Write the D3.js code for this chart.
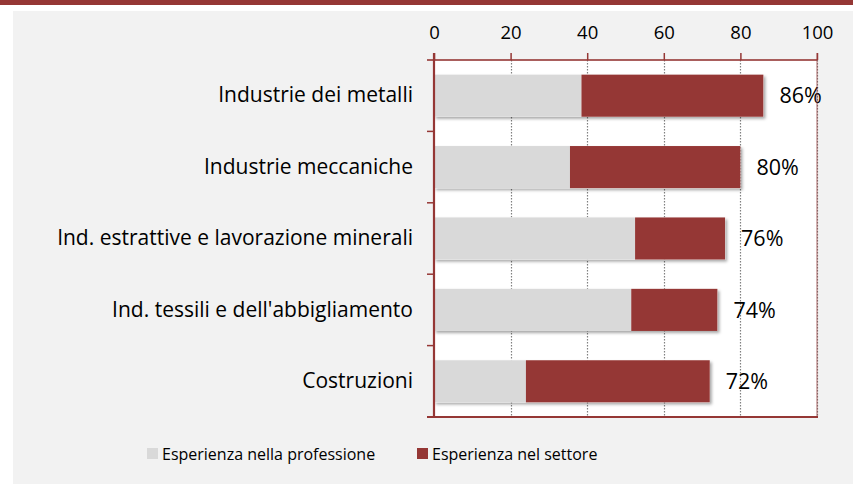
<!DOCTYPE html>
<html>
<head>
<meta charset="utf-8">
<script src="https://cdn.jsdelivr.net/npm/d3@7"></script>
<style>
  html, body { margin: 0; padding: 0; background: #fff; }
  svg { display: block; }
  text { font-family: "Open Sans", "Noto Sans", sans-serif; fill: #000; }
</style>
</head>
<body>
<svg id="chart" width="853" height="484"></svg>
<script>
const categories = [
  "Industrie dei metalli",
  "Industrie meccaniche",
  "Ind. estrattive e lavorazione minerali",
  "Ind. tessili e dell'abbigliamento",
  "Costruzioni"
];
const professione = [38.5, 35.5, 52.5, 51.5, 24];
const settore = [47.5, 44.5, 23.5, 22.5, 48];
const totali = [86, 80, 76, 74, 72];
const xTicks = [0, 20, 40, 60, 80, 100];
const seriesNames = ["Esperienza nella professione", "Esperienza nel settore"];

const RED = "#953735", GRAY = "#d9d9d9", PANEL = "#f2f2f2";
const FONT = "'Open Sans', 'Noto Sans', sans-serif";
const W = 853, H = 484;
const svg = d3.select("#chart");

const defs = svg.append("defs");
const f = defs.append("filter").attr("id", "shadow")
  .attr("x", "-5%").attr("y", "-20%").attr("width", "115%").attr("height", "150%");
f.append("feDropShadow").attr("dx", 2).attr("dy", 2).attr("stdDeviation", 1.8)
  .attr("flood-color", "#000").attr("flood-opacity", 0.35);

// background
svg.append("rect").attr("x", 0).attr("y", 0).attr("width", W).attr("height", 5).attr("fill", RED);
svg.append("rect").attr("x", 13).attr("y", 11).attr("width", W - 13).attr("height", H - 11).attr("fill", PANEL);

const x = d3.scaleLinear().domain([0, 100]).range([434, 817]);
const y = d3.scaleBand().domain(categories).range([60, 417]).paddingInner(0.41).paddingOuter(0.205);

// plot area
svg.append("rect").attr("x", x(0)).attr("y", 60).attr("width", x(100) - x(0)).attr("height", 417 - 60).attr("fill", "#fff");

// gridlines
svg.append("g").selectAll("line").data(xTicks.slice(1)).join("line")
  .attr("x1", d => Math.round(x(d)) + 0.5).attr("x2", d => Math.round(x(d)) + 0.5)
  .attr("y1", 60).attr("y2", 417)
  .attr("stroke", "#808080").attr("stroke-width", 1.2).attr("stroke-dasharray", "1.5,1.5");

// stacked bars
const stackData = categories.map((c, i) => ({ cat: c, professione: professione[i], settore: settore[i] }));
const stacked = d3.stack().keys(["professione", "settore"])(stackData);
const colors = [GRAY, RED];
const gBars = svg.append("g");
stackData.forEach((d, i) => {
  gBars.append("rect")
    .attr("x", x(0)).attr("y", y(d.cat))
    .attr("width", x(stacked[1][i][1]) - x(0)).attr("height", y.bandwidth())
    .attr("fill", "#fff").attr("filter", "url(#shadow)");
});
stacked.forEach((s, k) => {
  gBars.append("g").selectAll("rect").data(s).join("rect")
    .attr("x", d => x(d[0])).attr("y", d => y(d.data.cat))
    .attr("width", d => x(d[1]) - x(d[0])).attr("height", y.bandwidth())
    .attr("fill", colors[k]);
});

// value labels
svg.append("g").selectAll("text").data(categories).join("text")
  .attr("x", (c, i) => x(totali[i]) + 16)
  .attr("y", c => y(c) + y.bandwidth() / 2)
  .attr("dy", "0.36em")
  .style("font-size", "21.5px")
  .text((c, i) => totali[i] + "%");

// frame
svg.append("line").attr("x1", x(100)).attr("x2", x(100)).attr("y1", 53).attr("y2", 417)
  .attr("stroke", RED).attr("stroke-opacity", 0.6).attr("stroke-width", 1.2);
svg.append("line").attr("x1", 427).attr("x2", x(100)).attr("y1", 60).attr("y2", 60)
  .attr("stroke", RED).attr("stroke-opacity", 0.8).attr("stroke-width", 2);
svg.append("line").attr("x1", 427).attr("x2", x(100) + 1).attr("y1", 417).attr("y2", 417)
  .attr("stroke", RED).attr("stroke-width", 2);

// top axis
const xAxis = d3.axisTop(x).tickValues(xTicks).tickSize(7).tickPadding(14).tickSizeOuter(0);
const gx = svg.append("g").attr("transform", "translate(0,60)").call(xAxis);
gx.select(".domain").remove();
gx.selectAll(".tick line").attr("stroke", RED).attr("stroke-width", 1.5);
gx.selectAll(".tick text").style("font-size", "18.5px").attr("fill", "#000").style("font-family", FONT);

// left axis
svg.append("line").attr("x1", x(0)).attr("x2", x(0)).attr("y1", 53).attr("y2", 418)
  .attr("stroke", RED).attr("stroke-width", 2.2);
const bounds = d3.range(1, categories.length).map(i => y.range()[0] + i * y.step());
svg.append("g").selectAll("line").data(bounds).join("line")
  .attr("x1", 427).attr("x2", x(0)).attr("y1", d => d).attr("y2", d => d)
  .attr("stroke", RED).attr("stroke-width", 1.5);
const yAxis = d3.axisLeft(y).tickSize(0).tickPadding(21);
const gy = svg.append("g").attr("transform", `translate(${x(0)},0)`).call(yAxis);
gy.select(".domain").remove();
gy.selectAll(".tick text").style("font-size", "21px").attr("fill", "#000").style("font-family", FONT);

// legend
const legend = svg.append("g");
const legX = [147, 417];
seriesNames.forEach((n, i) => {
  legend.append("rect").attr("x", legX[i]).attr("y", 448).attr("width", 11).attr("height", 11).attr("fill", colors[i]);
  legend.append("text").attr("x", legX[i] + 15).attr("y", 454).attr("dy", "0.36em")
    .style("font-size", "16px").text(n);
});
</script>
</body>
</html>
